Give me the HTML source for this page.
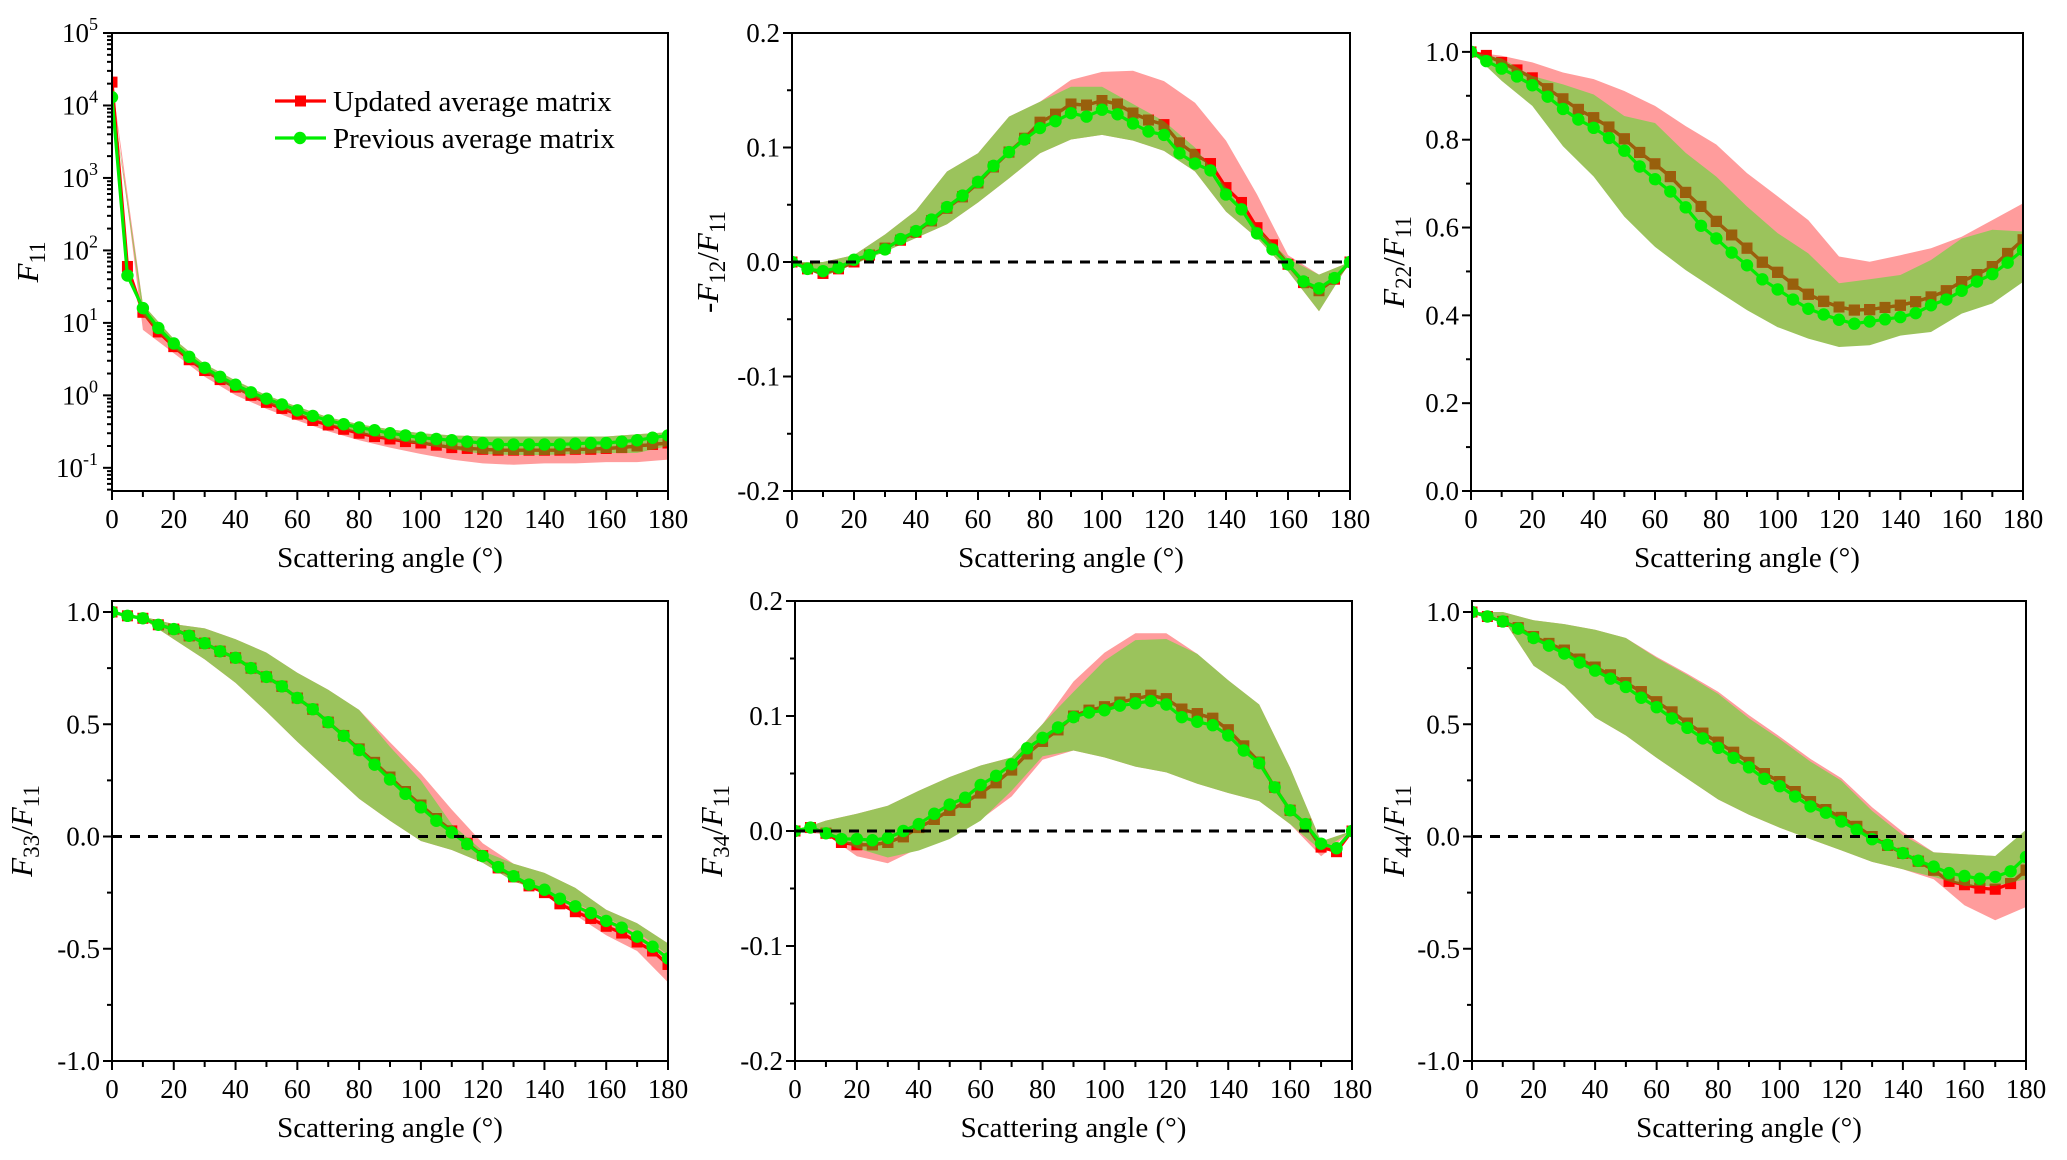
<!DOCTYPE html>
<html><head><meta charset="utf-8">
<style>
html,body{margin:0;padding:0;background:#fff;}
svg{display:block;}
text{font-family:"Liberation Serif","DejaVu Serif",serif;}
</style></head>
<body>
<svg id="fig" width="2067" height="1160" viewBox="0 0 2067 1160" xmlns="http://www.w3.org/2000/svg"></svg>
<script>
// ---------- data ----------
const angles = [0,5,10,15,20,25,30,35,40,45,50,55,60,65,70,75,80,85,90,95,100,105,110,115,120,125,130,135,140,145,150,155,160,165,170,175,180];
const bandAngles = [0,10,20,30,40,50,60,70,80,90,100,110,120,130,140,150,160,170,180];
const xTicks = [0,20,40,60,80,100,120,140,160,180];

// F11
const f11Red   = [21000,60,14,7.5,4.7,3.1,2.2,1.65,1.3,1.0,0.8,0.66,0.55,0.45,0.39,0.34,0.30,0.27,0.25,0.23,0.22,0.205,0.19,0.185,0.18,0.175,0.175,0.175,0.175,0.175,0.18,0.18,0.185,0.19,0.2,0.21,0.22];
const f11Green = [13000,45,16,8.5,5.2,3.4,2.4,1.8,1.4,1.1,0.9,0.75,0.62,0.52,0.45,0.40,0.36,0.33,0.30,0.28,0.26,0.25,0.24,0.23,0.22,0.21,0.21,0.21,0.21,0.21,0.215,0.22,0.22,0.23,0.24,0.26,0.28];
const f11RedHi   = [21000,18,6,2.7,1.6,1.0,0.7,0.5,0.4,0.34,0.3,0.28,0.27,0.27,0.27,0.27,0.27,0.29,0.31];
const f11RedLo   = [21000,8,3.8,1.8,1.0,0.65,0.45,0.32,0.24,0.19,0.155,0.13,0.115,0.11,0.115,0.115,0.12,0.12,0.13];
const f11GreenHi = [13000,18,6,2.7,1.6,1.0,0.7,0.5,0.4,0.34,0.3,0.28,0.27,0.27,0.27,0.27,0.27,0.29,0.31];
const f11GreenLo = [13000,13,4.5,2.1,1.2,0.8,0.55,0.4,0.3,0.25,0.21,0.18,0.155,0.15,0.15,0.155,0.16,0.16,0.2];

// -F12/F11
const f12Red   = [0,-0.006,-0.01,-0.006,0.0,0.006,0.012,0.019,0.026,0.036,0.047,0.057,0.069,0.083,0.096,0.108,0.122,0.129,0.138,0.137,0.141,0.138,0.130,0.124,0.120,0.104,0.094,0.086,0.065,0.052,0.030,0.015,-0.002,-0.018,-0.025,-0.015,0];
const f12Green = [0,-0.006,-0.008,-0.005,0.002,0.006,0.011,0.020,0.027,0.037,0.048,0.058,0.070,0.084,0.096,0.107,0.117,0.123,0.130,0.127,0.133,0.129,0.121,0.114,0.111,0.095,0.086,0.080,0.059,0.046,0.025,0.011,-0.002,-0.017,-0.023,-0.014,0];
const f12RedHi   = [0,0.0,0.006,0.024,0.045,0.079,0.095,0.127,0.140,0.159,0.166,0.167,0.158,0.139,0.106,0.059,0.006,-0.011,0];
const f12RedLo   = [0,-0.013,-0.002,0.009,0.021,0.033,0.052,0.073,0.095,0.107,0.111,0.106,0.097,0.079,0.044,0.021,-0.008,-0.043,0];
const f12GreenHi = [0,0.0,0.006,0.024,0.045,0.079,0.095,0.127,0.140,0.153,0.153,0.138,0.123,0.100,0.065,0.030,0.003,-0.011,0];
const f12GreenLo = [0,-0.013,-0.002,0.009,0.021,0.033,0.052,0.073,0.095,0.107,0.111,0.106,0.097,0.079,0.044,0.021,-0.008,-0.043,0];

// F22/F11
const f22Red   = [1.0,0.992,0.976,0.959,0.941,0.916,0.893,0.869,0.850,0.829,0.802,0.771,0.745,0.716,0.680,0.648,0.614,0.583,0.553,0.521,0.498,0.471,0.448,0.432,0.419,0.412,0.413,0.418,0.423,0.431,0.442,0.456,0.477,0.493,0.511,0.541,0.572];
const f22Green = [1.0,0.979,0.962,0.944,0.924,0.898,0.870,0.846,0.827,0.804,0.775,0.739,0.710,0.682,0.646,0.604,0.575,0.543,0.514,0.482,0.459,0.436,0.415,0.402,0.390,0.381,0.386,0.391,0.396,0.405,0.423,0.436,0.456,0.477,0.494,0.520,0.549];
const f22RedHi   = [1.0,0.991,0.976,0.953,0.938,0.911,0.877,0.831,0.789,0.724,0.671,0.617,0.534,0.522,0.537,0.553,0.579,0.617,0.655];
const f22RedLo   = [1.0,0.95,0.895,0.805,0.735,0.645,0.575,0.523,0.477,0.432,0.393,0.367,0.348,0.352,0.374,0.382,0.424,0.447,0.496];
const f22GreenHi = [1.0,0.985,0.945,0.926,0.903,0.854,0.838,0.770,0.716,0.648,0.587,0.541,0.473,0.482,0.492,0.526,0.575,0.595,0.591];
const f22GreenLo = [1.0,0.934,0.877,0.785,0.716,0.625,0.556,0.503,0.457,0.412,0.373,0.347,0.328,0.332,0.354,0.362,0.404,0.427,0.476];

// F33/F11
const f33Red   = [1.0,0.983,0.972,0.943,0.924,0.894,0.861,0.825,0.796,0.750,0.711,0.669,0.617,0.567,0.509,0.450,0.39,0.33,0.265,0.2,0.14,0.08,0.025,-0.03,-0.085,-0.14,-0.18,-0.22,-0.25,-0.30,-0.335,-0.365,-0.40,-0.43,-0.47,-0.51,-0.57];
const f33Green = [1.0,0.983,0.972,0.943,0.924,0.894,0.861,0.825,0.796,0.750,0.711,0.669,0.617,0.567,0.509,0.448,0.385,0.320,0.254,0.190,0.130,0.070,0.018,-0.034,-0.087,-0.136,-0.177,-0.214,-0.237,-0.277,-0.311,-0.341,-0.376,-0.406,-0.446,-0.491,-0.543];
const f33RedHi   = [1.0,0.98,0.946,0.927,0.879,0.819,0.729,0.654,0.564,0.42,0.28,0.12,-0.03,-0.121,-0.162,-0.229,-0.326,-0.386,-0.476];
const f33RedLo   = [1.0,0.969,0.879,0.789,0.684,0.557,0.422,0.295,0.168,0.07,-0.02,-0.06,-0.117,-0.2,-0.25,-0.35,-0.44,-0.51,-0.65];
const f33GreenHi = [1.0,0.98,0.946,0.927,0.879,0.819,0.729,0.654,0.564,0.400,0.250,0.055,-0.064,-0.121,-0.162,-0.229,-0.326,-0.386,-0.476];
const f33GreenLo = [1.0,0.969,0.879,0.789,0.684,0.557,0.422,0.295,0.168,0.07,-0.02,-0.06,-0.117,-0.2,-0.244,-0.296,-0.364,-0.424,-0.528];

// F34/F11
const f34Red   = [0,0.003,-0.002,-0.01,-0.012,-0.012,-0.01,-0.005,0.003,0.01,0.018,0.025,0.033,0.042,0.053,0.067,0.078,0.088,0.1,0.105,0.108,0.112,0.115,0.118,0.115,0.106,0.102,0.098,0.088,0.074,0.06,0.038,0.018,0.006,-0.014,-0.018,0];
const f34Green = [0,0.003,-0.002,-0.007,-0.007,-0.008,-0.006,0,0.006,0.015,0.023,0.029,0.040,0.048,0.058,0.072,0.081,0.090,0.099,0.103,0.105,0.109,0.111,0.113,0.110,0.099,0.095,0.092,0.083,0.070,0.059,0.038,0.018,0.006,-0.011,-0.015,0];
const f34RedHi   = [0,0.009,0.015,0.022,0.035,0.047,0.057,0.064,0.093,0.13,0.155,0.172,0.172,0.154,0.131,0.110,0.055,-0.009,0];
const f34RedLo   = [0,-0.003,-0.022,-0.028,-0.015,0.0,0.01,0.03,0.062,0.070,0.064,0.056,0.051,0.041,0.033,0.026,0.006,-0.022,0];
const f34GreenHi = [0,0.009,0.015,0.022,0.035,0.047,0.057,0.064,0.093,0.121,0.148,0.166,0.167,0.154,0.131,0.110,0.055,-0.009,0];
const f34GreenLo = [0,-0.001,-0.015,-0.023,-0.017,-0.007,0.009,0.035,0.065,0.070,0.064,0.056,0.051,0.041,0.033,0.026,0.006,-0.017,0];

// F44/F11
const f44Red   = [1.0,0.98,0.958,0.93,0.89,0.86,0.83,0.79,0.755,0.72,0.685,0.645,0.60,0.555,0.505,0.46,0.42,0.375,0.33,0.28,0.245,0.2,0.155,0.12,0.085,0.045,0.0,-0.04,-0.075,-0.11,-0.15,-0.2,-0.215,-0.23,-0.235,-0.21,-0.15];
const f44Green = [1.0,0.98,0.958,0.926,0.884,0.850,0.815,0.775,0.739,0.703,0.666,0.618,0.576,0.526,0.484,0.437,0.395,0.350,0.308,0.257,0.224,0.178,0.134,0.106,0.067,0.030,-0.012,-0.037,-0.074,-0.108,-0.134,-0.163,-0.176,-0.188,-0.180,-0.155,-0.091];
const f44RedHi   = [1.0,1.0,0.963,0.946,0.921,0.884,0.80,0.725,0.645,0.54,0.445,0.345,0.26,0.13,0.02,-0.07,-0.079,-0.087,-0.15];
const f44RedLo   = [1.0,0.97,0.761,0.67,0.53,0.45,0.35,0.257,0.165,0.097,0.039,-0.012,-0.062,-0.113,-0.146,-0.19,-0.306,-0.373,-0.314];
const f44GreenHi = [1.0,1.0,0.963,0.946,0.921,0.884,0.795,0.719,0.635,0.526,0.434,0.333,0.249,0.114,0.005,-0.071,-0.079,-0.087,0.03];
const f44GreenLo = [1.0,0.97,0.761,0.67,0.53,0.45,0.35,0.257,0.165,0.097,0.039,-0.012,-0.062,-0.113,-0.146,-0.18,-0.22,-0.22,-0.19];

const ticksF12 = [-0.2,-0.1,0.0,0.1,0.2];
const ticksF22 = [0.0,0.2,0.4,0.6,0.8,1.0];
const ticksF33 = [-1.0,-0.5,0.0,0.5,1.0];
const ticksF11 = [-1,0,1,2,3,4,5];

// ---------- drawing ----------
const NS = "http://www.w3.org/2000/svg";
const svg = document.getElementById('fig');
const FONT = "'Liberation Serif', 'DejaVu Serif', serif";
function mk(tag, attrs, parent){
  const e = document.createElementNS(NS, tag);
  for (const k in attrs) e.setAttribute(k, attrs[k]);
  if (tag === 'text') e.style.fontFamily = FONT;
  (parent||svg).appendChild(e);
  return e;
}
const RED = "#ff0000", GREEN = "#00ee00", BROWN = "#98600c";
const GFILL = "#9bc35c", RFILL = "#ff9c9c";

function panel(cfg){
  const {id,L,R,T,B,ymin,ymax,log} = cfg;
  const g = mk('g',{});
  
  
  const xs = a => L + (a/180)*(R-L);
  const tv = v => log ? Math.log10(v) : v;
  const ys = v => B - (tv(v)-ymin)/(ymax-ymin)*(B-T);
  const clipId = 'clip-'+id;
  const cp = mk('clipPath',{id:clipId},g);
  mk('rect',{x:L,y:T,width:R-L,height:B-T},cp);
  const plot = mk('g',{'clip-path':'url(#'+clipId+')'},g);

  function bandPath(hi, lo){
    let d = '';
    bandAngles.forEach((a,i)=>{ d += (i?'L':'M')+xs(a).toFixed(1)+','+ys(hi[i]).toFixed(1); });
    for (let i=bandAngles.length-1;i>=0;i--) d += 'L'+xs(bandAngles[i]).toFixed(1)+','+ys(lo[i]).toFixed(1);
    return d+'Z';
  }
  function band(hi, lo, fill, name){
    const p = mk('path',{d:bandPath(hi,lo),fill:fill,stroke:'none'},plot);
    
    
  }
  function series(vals, color, marker, name, parent){
    const sg = mk('g',{},parent);
    
    
    const pts = angles.map((a,i)=>xs(a).toFixed(1)+','+ys(vals[i]).toFixed(1)).join(' ');
    mk('polyline',{points:pts,fill:'none',stroke:color,'stroke-width':3.2,'stroke-linejoin':'round'},sg);
    angles.forEach((a,i)=>{
      let m;
      if (marker==='sq') m = mk('rect',{x:xs(a)-5.5,y:ys(vals[i])-5.5,width:11,height:11,fill:color},sg);
      else m = mk('circle',{cx:xs(a),cy:ys(vals[i]),r:6.2,fill:color},sg);
      
      
    });
  }
  band(cfg.rHi, cfg.rLo, RFILL, 'updated-range-band');
  band(cfg.gHi, cfg.gLo, GFILL, 'previous-range-band');
  series(cfg.red, RED, 'sq', 'updated-average-line', plot);
  const gcId = 'gclip-'+id;
  const gcp = mk('clipPath',{id:gcId},g);
  mk('path',{d:bandPath(cfg.gHi,cfg.gLo)},gcp);
  const inner = mk('g',{'clip-path':'url(#'+gcId+')'},plot);
  series(cfg.red, BROWN, 'sq', 'updated-average-line-shaded', inner);
  series(cfg.green, GREEN, 'ci', 'previous-average-line', plot);

  if (cfg.zero){
    const z = mk('line',{x1:L,x2:R,y1:ys(0),y2:ys(0),stroke:'#000','stroke-width':3,'stroke-dasharray':'10,8'},g);
    
    
  }
  const fr = mk('rect',{x:L,y:T,width:R-L,height:B-T,fill:'none',stroke:'#000','stroke-width':2},g);
  
  

  const xa = mk('g',{},g);
  
  
  for (let a=0;a<=180;a+=10){
    const major = a%20===0;
    mk('line',{x1:xs(a),x2:xs(a),y1:B,y2:B+(major?9:6),stroke:'#000','stroke-width':2},xa);
  }
  xTicks.forEach(a=>{
    const t = mk('text',{x:xs(a),y:B+37,'font-size':27,'text-anchor':'middle'},xa);
    t.textContent = a;
    
    
  });
  const xt = mk('text',{x:(L+R)/2,y:B+76,'font-size':29,'text-anchor':'middle'},g);
  xt.textContent = 'Scattering angle (°)';
  
  

  const ya = mk('g',{},g);
  
  
  if (log){
    for (let d=-2; d<=5; d++){
      for (let k=1;k<10;k++){
        const v = k*Math.pow(10,d);
        const y = ys(v);
        if (y < T-0.5 || y > B+0.5) continue;
        mk('line',{x1:L,x2:L-(k===1?9:5),y1:y,y2:y,stroke:'#000','stroke-width':2},ya);
      }
    }
    cfg.ticks.forEach(e=>{
      const t = mk('text',{x:L-14,y:ys(Math.pow(10,e))+9,'font-size':27,'text-anchor':'end'},ya);
      
      
      const b = mk('tspan',{},t); b.textContent='10';
      const s = mk('tspan',{dy:-12,'font-size':18},t); s.textContent = String(e);
    });
  } else {
    const step = cfg.minor;
    for (let v=cfg.tmin; v<=ymax+1e-9; v+=step){
      const y = ys(v);
      const isMajor = cfg.ticks.some(t=>Math.abs(t-v)<1e-6);
      mk('line',{x1:L,x2:L-(isMajor?9:5),y1:y,y2:y,stroke:'#000','stroke-width':2},ya);
    }
    cfg.ticks.forEach(v=>{
      const t = mk('text',{x:L-12,y:ys(v)+9,'font-size':27,'text-anchor':'end'},ya);
      t.textContent = v.toFixed(1);
      
      
    });
  }
  const yc = (T+B)/2;
  const yt = mk('text',{x:0,y:0,'font-size':31,'text-anchor':'middle',transform:`translate(${cfg.tx},${yc}) rotate(-90)`},g);
  
  
  if (cfg.neg){ const n = mk('tspan',{},yt); n.textContent='-'; }
  const f1 = mk('tspan',{'font-style':'italic'},yt); f1.textContent='F';
  const s1 = mk('tspan',{dy:7,'font-size':23},yt); s1.textContent=cfg.sub;
  if (cfg.sub !== '11'){
    const sl = mk('tspan',{dy:-7},yt); sl.textContent='/';
    const f2 = mk('tspan',{'font-style':'italic'},yt); f2.textContent='F';
    const s2 = mk('tspan',{dy:7,'font-size':23},yt); s2.textContent='11';
  }
}

panel({id:'f11',L:112,R:668,T:33,B:491,log:true,ymin:-1.32,ymax:5,ticks:ticksF11,red:f11Red,green:f11Green,rHi:f11RedHi,rLo:f11RedLo,gHi:f11GreenHi,gLo:f11GreenLo,tx:38,sub:'11'});
panel({id:'f12',L:792,R:1350,T:33,B:491,ymin:-0.2,ymax:0.2,tmin:-0.2,minor:0.05,ticks:ticksF12,red:f12Red,green:f12Green,rHi:f12RedHi,rLo:f12RedLo,gHi:f12GreenHi,gLo:f12GreenLo,zero:true,tx:718,sub:'12',neg:true});
panel({id:'f22',L:1471,R:2023,T:33,B:491,ymin:0,ymax:1.043,tmin:0,minor:0.1,ticks:ticksF22,red:f22Red,green:f22Green,rHi:f22RedHi,rLo:f22RedLo,gHi:f22GreenHi,gLo:f22GreenLo,tx:1404,sub:'22'});
panel({id:'f33',L:112,R:668,T:601,B:1061,ymin:-1,ymax:1.049,tmin:-1,minor:0.25,ticks:ticksF33,red:f33Red,green:f33Green,rHi:f33RedHi,rLo:f33RedLo,gHi:f33GreenHi,gLo:f33GreenLo,zero:true,tx:32,sub:'33'});
panel({id:'f34',L:795,R:1352,T:601,B:1061,ymin:-0.2,ymax:0.2,tmin:-0.2,minor:0.05,ticks:ticksF12,red:f34Red,green:f34Green,rHi:f34RedHi,rLo:f34RedLo,gHi:f34GreenHi,gLo:f34GreenLo,zero:true,tx:722,sub:'34'});
panel({id:'f44',L:1472,R:2026,T:601,B:1061,ymin:-1,ymax:1.049,tmin:-1,minor:0.25,ticks:ticksF33,red:f44Red,green:f44Green,rHi:f44RedHi,rLo:f44RedLo,gHi:f44GreenHi,gLo:f44GreenLo,zero:true,tx:1404,sub:'44'});

const lg = mk('g',{});


[['Updated average matrix',RED,'sq',101],['Previous average matrix',GREEN,'ci',138]].forEach(([lab,col,m,y])=>{
  const e = mk('g',{},lg);
  
  
  mk('line',{x1:275,x2:326,y1:y,y2:y,stroke:col,'stroke-width':3.2},e);
  if (m==='sq') mk('rect',{x:295,y:y-5.5,width:11,height:11,fill:col},e);
  else mk('circle',{cx:300,cy:y,r:6.2,fill:col},e);
  const t = mk('text',{x:333,y:y+10,'font-size':29},e);
  t.textContent = lab;
});
</script>
</body></html>
